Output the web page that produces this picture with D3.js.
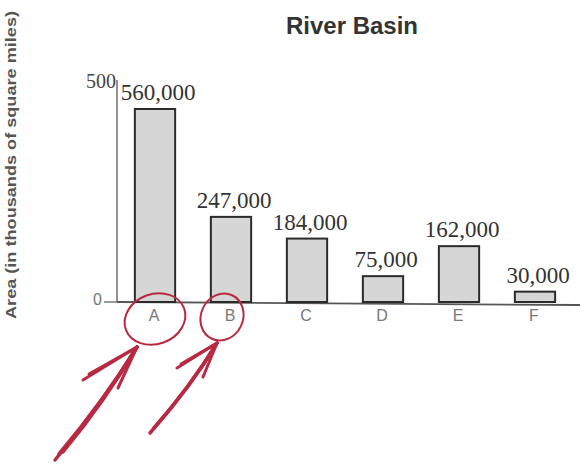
<!DOCTYPE html>
<html><head><meta charset="utf-8">
<script src="https://cdn.jsdelivr.net/npm/d3@7"></script>
<style>body{margin:0;background:#fff}svg{display:block}</style>
</head><body>
<svg id="c" width="586" height="464"></svg>
<script>
const categories = ["A","B","C","D","E","F"];
const values = [560, 247, 184, 75, 162, 30]; // thousands of square miles
const valueLabels = ["560,000","247,000","184,000","75,000","162,000","30,000"];
const axisTickLabels = ["0","500"];
const circled = ["A","B"];

const svg = d3.select("#c");
const x = d3.scaleBand().domain(categories).range([117, 573]).paddingInner(0.47).paddingOuter(0.235);
const y = d3.scaleLinear().domain([0, 560]).range([302, 109]);
const yAxisScale = d3.scaleLinear().domain([0, 500]).range([302, 80]);

// title
svg.append("text").attr("x", 352).attr("y", 34).attr("text-anchor","middle")
  .attr("font-family","Liberation Sans, Arial, sans-serif").attr("font-weight","bold")
  .attr("font-size", 24).attr("fill","#333").text("River Basin");

// y label
svg.append("text").attr("transform","translate(16,165) rotate(-90)").attr("text-anchor","middle")
  .attr("font-family","Liberation Sans, Arial, sans-serif").attr("font-weight","bold")
  .attr("font-size", 15).attr("fill","#555").attr("textLength", 308).attr("lengthAdjust","spacingAndGlyphs")
  .text("Area (in thousands of square miles)");

// y axis line
svg.append("line").attr("x1",117).attr("x2",117).attr("y1",yAxisScale(500)).attr("y2",yAxisScale(0))
  .attr("stroke","#777").attr("stroke-width",1.6);
// zero tick
svg.append("line").attr("x1",104).attr("x2",117).attr("y1",yAxisScale(0)).attr("y2",yAxisScale(0))
  .attr("stroke","#777").attr("stroke-width",1.5);
svg.append("text").attr("x",102).attr("y",yAxisScale(0)+3).attr("text-anchor","end")
  .attr("font-family","Liberation Sans, Arial, sans-serif").attr("font-size",16).attr("fill","#777")
  .text(axisTickLabels[0]);
svg.append("text").attr("x",116).attr("y",yAxisScale(500)+8).attr("text-anchor","end")
  .attr("font-family","Liberation Serif, Times New Roman, serif").attr("font-size",20).attr("fill","#444")
  .text(axisTickLabels[1]);

// baseline
svg.append("line").attr("x1",117).attr("x2",580).attr("y1",y(0)).attr("y2",y(0)+3)
  .attr("stroke","#555").attr("stroke-width",1.8);

// bars
svg.selectAll("rect.bar").data(values).enter().append("rect").attr("class","bar")
  .attr("x",(d,i)=>x(categories[i])).attr("width",x.bandwidth())
  .attr("y",d=>y(d)).attr("height",d=>y(0)-y(d))
  .attr("fill","#d6d6d6").attr("stroke","#2b2b2b").attr("stroke-width",2);

// value labels
svg.selectAll("text.vl").data(values).enter().append("text").attr("class","vl")
  .attr("x",(d,i)=>x(categories[i])+x.bandwidth()/2+3).attr("y",d=>y(d)-9)
  .attr("text-anchor","middle").attr("font-family","Liberation Serif, Times New Roman, serif")
  .attr("font-size",23).attr("fill","#333").text((d,i)=>valueLabels[i]);

// category labels
svg.selectAll("text.cl").data(categories).enter().append("text").attr("class","cl")
  .attr("x",d=>x(d)+x.bandwidth()/2-1).attr("y",y(0)+19)
  .attr("text-anchor","middle").attr("font-family","Liberation Sans, Arial, sans-serif")
  .attr("font-size",16).attr("fill","#777").text(d=>d);

// red hand-drawn annotations
const red = "#b82a42";
const ann = svg.append("g").attr("fill","none").attr("stroke",red).attr("stroke-linecap","round");
const ellipses = [{c:"A",dx:0,dy:17,rx:31,ry:25,rot:-20},{c:"B",dx:-9,dy:15,rx:21,ry:24,rot:25}];
ellipses.forEach(e=>{
  const cx = x(e.c)+x.bandwidth()/2+e.dx, cy = y(0)+e.dy;
  ann.append("ellipse").attr("cx",cx).attr("cy",cy).attr("rx",e.rx).attr("ry",e.ry)
    .attr("transform",`rotate(${e.rot},${cx},${cy})`).attr("stroke-width",2);
});
// arrows
const arrows = [
  {c:"A", tip:[-18,45], tail:[[-100,158],[-96,152],[-92,150]], heads:[[-72,78],[-37,86],[-66,72]]},
  {c:"B", tip:[-14,41], tail:[[-81,131],[-77,126]], heads:[[-54,66],[-28,75],[-50,62]]}
];
arrows.forEach(a=>{
  const bx = x(a.c)+x.bandwidth()/2, by = y(0);
  const tx = bx+a.tip[0], ty = by+a.tip[1];
  a.tail.forEach(t=>{
    ann.append("path").attr("d",`M${bx+t[0]},${by+t[1]} Q${(bx+t[0]+tx)/2+6},${(by+t[1]+ty)/2} ${tx},${ty}`)
      .attr("stroke-width",3.5);
  });
  a.heads.forEach(h=>{
    ann.append("line").attr("x1",bx+h[0]).attr("y1",by+h[1]).attr("x2",tx).attr("y2",ty).attr("stroke-width",3);
  });
});
</script>
</body></html>
